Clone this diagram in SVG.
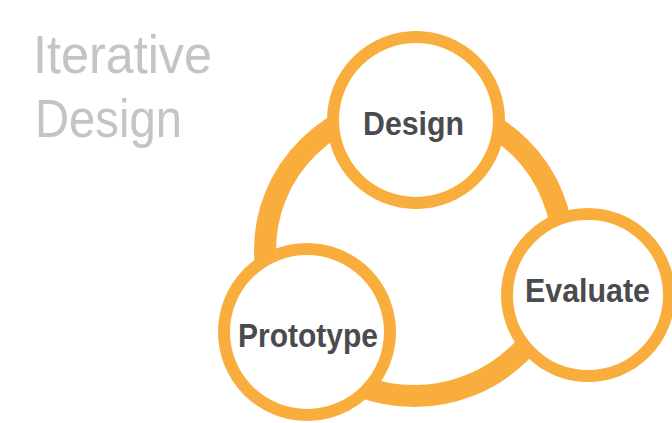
<svg xmlns="http://www.w3.org/2000/svg" width="672" height="423" viewBox="0 0 672 423">
<style>
.ring{fill:none;stroke:#F8AD3D;stroke-width:22}
.node{fill:#fff;stroke:#F8AD3D;stroke-width:12}
.lbl{font-family:"Liberation Sans",Arial,sans-serif;font-weight:bold;font-size:34px;fill:#4b4b4d}
.title{font-family:"Liberation Sans",Arial,sans-serif;font-size:53px;fill:#c4c4c4}
</style>
<rect width="672" height="423" fill="#fff"/>
<g id="title">
<text class="title" x="33" y="73" textLength="179" lengthAdjust="spacingAndGlyphs">Iterative</text>
<text class="title" x="35" y="137" textLength="147" lengthAdjust="spacingAndGlyphs">Design</text>
</g>
<g id="connectors">
<ellipse class="ring" cx="414" cy="250" rx="149" ry="146"/>
</g>
<g id="design">
<circle class="node" cx="416" cy="120" r="83"/>
<text class="lbl" x="363" y="135" textLength="101" lengthAdjust="spacingAndGlyphs">Design</text>
</g>
<g id="evaluate">
<circle class="node" cx="588" cy="295" r="81"/>
<text class="lbl" x="525" y="302" textLength="125" lengthAdjust="spacingAndGlyphs">Evaluate</text>
</g>
<g id="prototype">
<circle class="node" cx="307" cy="332" r="83"/>
<text class="lbl" x="238" y="347" textLength="140" lengthAdjust="spacingAndGlyphs">Prototype</text>
</g>
</svg>
